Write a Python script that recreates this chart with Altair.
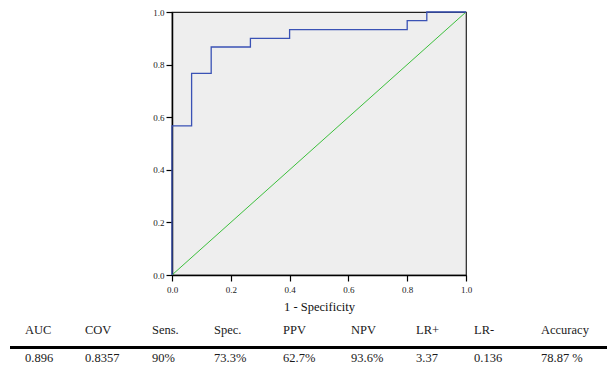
import altair as alt
import pandas as pd

# ROC curve (1 - specificity, sensitivity)
roc_fpr = [0.0, 0.0, 0.0667, 0.0667, 0.1333, 0.1333, 0.2667, 0.2667, 0.4, 0.4, 0.8, 0.8, 0.8667, 0.8667, 1.0]
roc_tpr = [0.0, 0.567, 0.567, 0.767, 0.767, 0.867, 0.867, 0.9, 0.9, 0.933, 0.933, 0.967, 0.967, 1.0, 1.0]
ref_x = [0.0, 1.0]
ref_y = [0.0, 1.0]

# Summary table
headers = ["AUC", "COV", "Sens.", "Spec.", "PPV", "NPV", "LR+", "LR-", "Accuracy"]
values = ["0.896", "0.8357", "90%", "73.3%", "62.7%", "93.6%", "3.37", "0.136", "78.87 %"]

PLOT_LEFT, PLOT_TOP = 172, 12
col_px = [25, 85, 152, 214, 283, 351, 416, 474, 541]

roc_df = pd.DataFrame({"fpr": roc_fpr, "tpr": roc_tpr, "i": list(range(len(roc_fpr)))})
ref_df = pd.DataFrame({"fpr": ref_x, "tpr": ref_y})
tab_rows = []
for k, (h, v) in enumerate(zip(headers, values)):
    tab_rows.append({"col": k, "row": 0, "txt": h})
    tab_rows.append({"col": k, "row": 1, "txt": v})
tab_df = pd.DataFrame(tab_rows)

serif = "'Liberation Serif', 'Times New Roman', serif"
ticks = [0.0, 0.2, 0.4, 0.6, 0.8, 1.0]

xax = alt.Axis(values=ticks, format=".1f", grid=False, domainColor="#000", domainWidth=1.5,
               tickColor="#000", tickWidth=1.2, tickSize=6, labelFont=serif, labelFontSize=9,
               labelColor="#222", labelPadding=4, labelFlush=False, title="1 - Specificity",
               titleFont=serif, titleFontSize=12.5, titleFontWeight="normal", titleColor="#111",
               titlePadding=6)
yax = alt.Axis(values=ticks, format=".1f", grid=False, domainColor="#000", domainWidth=1.5,
               tickColor="#000", tickWidth=1.2, tickSize=6, labelFont=serif, labelFontSize=9,
               labelColor="#222", labelPadding=2, labelFlush=False, title=None)

diag = alt.Chart(ref_df).mark_line(color="#3cbf3c", strokeWidth=1).encode(
    x=alt.X("fpr:Q", scale=alt.Scale(domain=[0, 1], nice=False), axis=xax),
    y=alt.Y("tpr:Q", scale=alt.Scale(domain=[0, 1], nice=False), axis=yax),
)
roc = alt.Chart(roc_df).mark_line(color="#3a52b5", strokeWidth=1.3).encode(
    x="fpr:Q", y="tpr:Q", order="i:Q"
)

plot = alt.layer(diag, roc)

tab_x = alt.X("col:Q", axis=None,
              scale=alt.Scale(domain=list(range(len(headers))), range=[p - PLOT_LEFT for p in col_px]))
tab_y = alt.Y("row:Q", axis=None, scale=alt.Scale(domain=[0, 1], range=[334 - PLOT_TOP, 362 - PLOT_TOP]))

table_text = alt.Chart(tab_df).mark_text(
    align="left", baseline="alphabetic", font=serif, fontSize=12.5, color="#1a1a1a"
).encode(x=tab_x, y=tab_y, text="txt:N")

rule = alt.Chart(tab_df).mark_rule(color="#000", strokeWidth=3).encode(
    x=alt.value(10 - PLOT_LEFT), x2=alt.value(607 - PLOT_LEFT), y=alt.value(347.5 - PLOT_TOP)
)

table = alt.layer(table_text, rule)

chart = alt.layer(plot, table).resolve_scale(x="independent", y="independent").properties(
    width=294, height=263,
    background="white",
    autosize=alt.AutoSizeParams(type="none"),
    padding={"left": PLOT_LEFT, "top": PLOT_TOP, "right": 607 - PLOT_LEFT - 294, "bottom": 367 - PLOT_TOP - 263},
).configure_view(fill="#eeeeee", stroke="#222", strokeWidth=1.2)

chart.save("out.html", embed_options={"renderer": "svg", "actions": False})
